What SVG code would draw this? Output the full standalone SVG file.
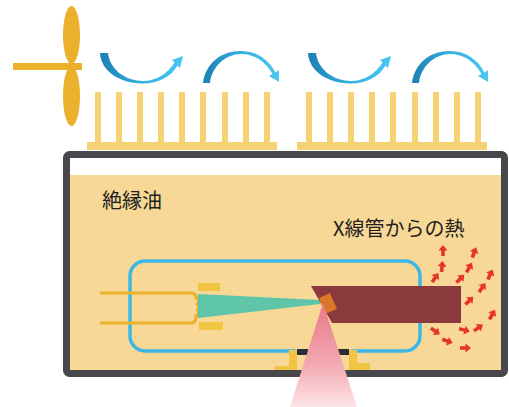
<svg xmlns="http://www.w3.org/2000/svg" width="509" height="407" viewBox="0 0 509 407">
  <style>
    .fin { fill: #f5d375; }
    .fan { fill: #ebb02c; }
    .label { font-family: "Noto Sans CJK JP", "Noto Sans", sans-serif; font-size: 20px; fill: #231f20; }
    .heat { fill: #e8332a; }
    .bracket { fill: #f2c443; }
    .window { fill: #2c2c36; }
  </style>
  <defs>
    <linearGradient id="flowGrad" x1="0" y1="0" x2="1" y2="0">
      <stop offset="0" stop-color="#1a80b2"/>
      <stop offset="0.5" stop-color="#34b0e0"/>
      <stop offset="1" stop-color="#4cc7ef"/>
    </linearGradient>
    <linearGradient id="beamGrad" x1="0" y1="0" x2="0" y2="1">
      <stop offset="0" stop-color="#e87a88"/>
      <stop offset="0.6" stop-color="#f3aab3"/>
      <stop offset="1" stop-color="#fde4e7"/>
    </linearGradient>
    <!-- air flow: dipping arc and rising arc -->
    <path id="flowDip" fill="url(#flowGrad)" d="M100,53 L108,53 C110,70 126,81 143,81 C157,81 168,73 174.5,62.5 L172,60 L183,56 L180,68 L177.5,65.5 C171,77 158,83.5 143,83.5 C121,83.5 101,72 100,53 Z"/>
    <path id="flowArch" fill="url(#flowGrad)" d="M203,83 C206,62 222,51 241,51 C257,51 269,60 275.5,72.5 L279,70 L279,82 L269,76 L272.5,74 C266,62 255,54 241,54 C226,54 212,66 210,83 Z"/>
    <!-- small heat arrow, pointing up -->
    <path id="heatArrow" d="M0,-6 L4.5,-0.5 L1.8,-0.5 L1.8,5 L-1.8,5 L-1.8,-0.5 L-4.5,-0.5 Z"/>
  </defs>

  <rect width="509" height="407" fill="#ffffff"/>

  <!-- cooling fan -->
  <g id="fan">
    <rect class="fan" x="13" y="63" width="69" height="7"/>
    <ellipse class="fan" cx="71.5" cy="35" rx="8.5" ry="29"/>
    <ellipse class="fan" cx="71.5" cy="96" rx="8.5" ry="30"/>
  </g>

  <!-- air flow arrows -->
  <g id="airflow">
    <use href="#flowDip"/>
    <use href="#flowArch"/>
    <use href="#flowDip" transform="translate(208,0)"/>
    <use href="#flowArch" transform="translate(209,0)"/>
  </g>

  <!-- heat sinks -->
  <g id="heatsink-left">
    <rect class="fin" x="87" y="142" width="190" height="8"/>
    <rect class="fin" x="95" y="92" width="6" height="52"/>
    <rect class="fin" x="116" y="92" width="6" height="52"/>
    <rect class="fin" x="137" y="92" width="6" height="52"/>
    <rect class="fin" x="158" y="92" width="6" height="52"/>
    <rect class="fin" x="179" y="92" width="6" height="52"/>
    <rect class="fin" x="200" y="92" width="6" height="52"/>
    <rect class="fin" x="222" y="92" width="6" height="52"/>
    <rect class="fin" x="243" y="92" width="6" height="52"/>
    <rect class="fin" x="264" y="92" width="6" height="52"/>
  </g>
  <g id="heatsink-right">
    <rect class="fin" x="297" y="142" width="190" height="8"/>
    <rect class="fin" x="306" y="92" width="6" height="52"/>
    <rect class="fin" x="327" y="92" width="6" height="52"/>
    <rect class="fin" x="348" y="92" width="6" height="52"/>
    <rect class="fin" x="369" y="92" width="6" height="52"/>
    <rect class="fin" x="390" y="92" width="6" height="52"/>
    <rect class="fin" x="412" y="92" width="6" height="52"/>
    <rect class="fin" x="433" y="92" width="6" height="52"/>
    <rect class="fin" x="454" y="92" width="6" height="52"/>
    <rect class="fin" x="475" y="92" width="6" height="52"/>
  </g>

  <!-- oil tank -->
  <g id="tank">
    <rect x="66.5" y="154.5" width="438" height="219" fill="#ffffff"/>
    <rect x="70" y="175" width="431" height="195" fill="#f7d896"/>
    <rect x="66.5" y="154.5" width="438" height="219" rx="3" fill="none" stroke="#48484c" stroke-width="7"/>
    <text class="label" x="102" y="208">絶縁油</text>
  </g>

  <!-- X-ray tube -->
  <g id="xray-tube">
    <rect x="130" y="261" width="290" height="90" rx="15" fill="none" stroke="#3cb8e6" stroke-width="3.5"/>
    <!-- exit window -->
    <rect x="296" y="348" width="55" height="7" fill="#f7d896"/>
    <rect class="window" x="297" y="349" width="11" height="6"/>
    <rect class="window" x="338" y="349" width="11" height="6"/>
    <!-- mounting brackets -->
    <path class="bracket" d="M289,350 H297 V370 H275 V366 H289 Z"/>
    <path class="bracket" d="M349,350 H357 V363 H370 V370 H349 Z"/>
  </g>

  <!-- cathode -->
  <g id="cathode">
    <path d="M100,293 H191 C195,293 196,295 196,298 C199.5,298 199.5,304 196,304 C199.5,304 199.5,310 196,310 C199.5,310 199.5,316 196,316 C196,321 194,323 191,323 H100" fill="none" stroke="#ebb02c" stroke-width="3"/>
    <rect class="bracket" x="198" y="283" width="22" height="8"/>
    <rect class="bracket" x="199" y="322" width="24" height="8"/>
    <polygon points="198,294 198,318 320,304 320,300" fill="#5ec5a9"/>
  </g>

  <!-- anode -->
  <g id="anode">
    <polygon points="311,286 461,286 461,323 332,323" fill="#8a393c"/>
    <polygon points="319,298 330,293 337,309 325,314" fill="#dc772a"/>
  </g>

  <!-- emitted X-ray beam -->
  <g id="beam">
    <polygon points="323,303 357,407 290,407" fill="url(#beamGrad)"/>
  </g>

  <!-- heat from the tube -->
  <g id="heat">
    <text class="label" x="333" y="236">X線管からの熱</text>
    <use class="heat" href="#heatArrow" transform="translate(443,251) rotate(0)"/>
    <use class="heat" href="#heatArrow" transform="translate(442,267) rotate(5)"/>
    <use class="heat" href="#heatArrow" transform="translate(435,278) rotate(35)"/>
    <use class="heat" href="#heatArrow" transform="translate(474,253) rotate(20)"/>
    <use class="heat" href="#heatArrow" transform="translate(469,268) rotate(30)"/>
    <use class="heat" href="#heatArrow" transform="translate(460,279) rotate(45)"/>
    <use class="heat" href="#heatArrow" transform="translate(490,275) rotate(25)"/>
    <use class="heat" href="#heatArrow" transform="translate(482,288) rotate(35)"/>
    <use class="heat" href="#heatArrow" transform="translate(469,301) rotate(45)"/>
    <use class="heat" href="#heatArrow" transform="translate(492,315) rotate(30)"/>
    <use class="heat" href="#heatArrow" transform="translate(478,328) rotate(55)"/>
    <use class="heat" href="#heatArrow" transform="translate(464,330) rotate(105)"/>
    <use class="heat" href="#heatArrow" transform="translate(435,331) rotate(125)"/>
    <use class="heat" href="#heatArrow" transform="translate(447,341) rotate(110)"/>
    <use class="heat" href="#heatArrow" transform="translate(465,348) rotate(90)"/>
  </g>
</svg>
